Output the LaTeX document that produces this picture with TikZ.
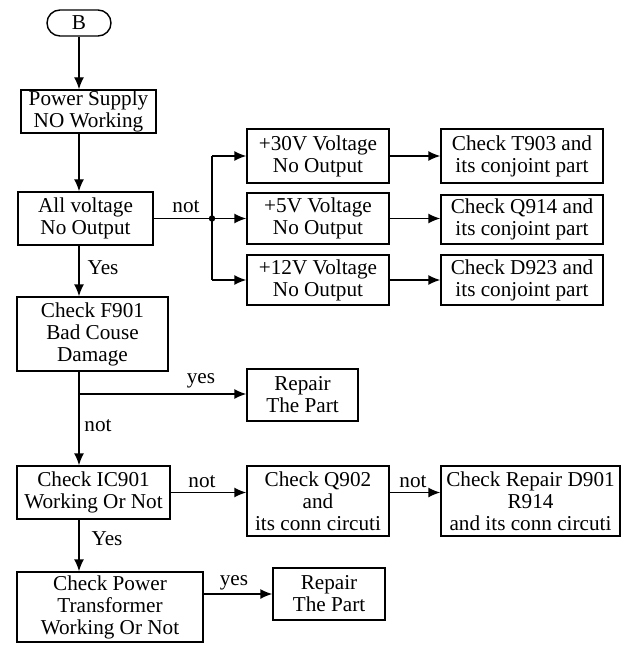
\documentclass[tikz,border=0pt]{standalone}
\usepackage{fontspec}
\setmainfont{Liberation Serif}
\usetikzlibrary{arrows.meta, positioning}

\begin{document}
\begin{tikzpicture}[x=0.5pt, y=-0.5pt, >={Latex[length=6pt,width=5pt]}, line width=0.7pt,
    box/.style={draw, align=center, inner sep=0pt, font=\fontsize{10.6}{11}\selectfont},
    sz/.style 2 args={minimum width=#1*0.5pt, minimum height=#2*0.5pt},
    lbl/.style={inner sep=0pt, font=\fontsize{10.6}{11}\selectfont}]
    % --- khung hinh ---
    \useasboundingbox (0,0) rectangle (621,646);

    % --- cot chinh ---
    \node[box, sz={64}{26}, rounded corners=6.5pt] (B) at (79,23) {B};
    \node[box, sz={135}{43}] (ps) at (88.5,111.5) {Power Supply\\NO Working};
    \node[box, sz={135}{53}] (allv) at (85.5,218.5) {All voltage\\No Output};
    \node[box, sz={151}{74}] (f901) at (92.5,334) {Check F901\\Bad Couse\\Damage};
    \node[box, sz={153}{53}] (ic) at (93.5,492.5) {Check IC901\\Working Or Not};
    \node[box, sz={186}{70}] (pt) at (110,607) {Check Power\\Transformer\\Working Or Not};

    % --- nhanh dien ap ---
    \node[box, sz={142}{54}] (v30) at (318,156) {+30V Voltage\\No Output};
    \node[box, sz={142}{51}] (v5) at (318,218.5) {+5V Voltage\\No Output};
    \node[box, sz={142}{50}] (v12) at (318,280) {+12V Voltage\\No Output};
    \node[box, sz={162}{54}] (c30) at (522,156) {Check T903 and\\its conjoint part};
    \node[box, sz={162}{49}] (c5) at (522,219.5) {Check Q914 and\\its conjoint part};
    \node[box, sz={162}{50}] (c12) at (522,280) {Check D923 and\\its conjoint part};

    % --- sua chua ---
    \node[box, sz={111}{52}] (rep1) at (302.5,395) {Repair\\The Part};
    \node[box, sz={142}{70}] (q902) at (318,501) {Check Q902\\and\\its conn circuti};
    \node[box, sz={179}{70}] (d901) at (530.5,501) {Check Repair D901\\R914\\and its conn circuti};
    \node[box, sz={112}{52}] (rep2) at (329,594) {Repair\\The Part};

    % Diem re nhanh
    \coordinate (jn) at (212,218.5);
    \coordinate (br1) at (79,394);

    % --- nhan ---
    \node[lbl] (nt1) at (186,207) {not};
    \node[lbl] (ys1) at (103,268) {Yes};
    \node[lbl] (ys2) at (201,381) {yes};
    \node[lbl] (nt2) at (98,426) {not};
    \node[lbl] (nt3) at (202,482) {not};
    \node[lbl] (nt4) at (413,482) {not};
    \node[lbl] (ys3) at (107,539) {Yes};
    \node[lbl] (ys4) at (234,583) {yes};

    % --- mui ten cot chinh ---
    \draw[->] (B) -- (B |- ps.north);
    \draw[->] (B |- ps.south) -- (B |- allv.north);
    \draw[->] (B |- allv.south) -- (B |- f901.north);
    \draw[->] (B |- f901.south) -- (B |- ic.north);
    \draw[->] (B |- ic.south) -- (B |- pt.north);

    % --- mui ten nhanh ---
    \draw (allv.east) -- (jn);
    \fill (jn) circle (1.6pt);
    \draw (jn |- v30.west) -- (jn |- v12.west);
    \draw[->] (jn |- v30.west) -- (v30.west);
    \draw[->] (jn) -- (jn -| v5.west);
    \draw[->] (jn |- v12.west) -- (v12.west);
    \draw[->] (v30.east) -- (c30.west);
    \draw[->] (v5.east) -- (v5.east -| c5.west);
    \draw[->] (v12.east) -- (c12.west);

    \draw[->] (br1) -- (br1 -| rep1.west);
    \draw[->] (ic.east) -- (ic.east -| q902.west);
    \draw[->] (ic.east -| q902.east) -- (ic.east -| d901.west);
    \draw[->] (pt.east |- rep2.west) -- (rep2.west);
\end{tikzpicture}
\end{document}
